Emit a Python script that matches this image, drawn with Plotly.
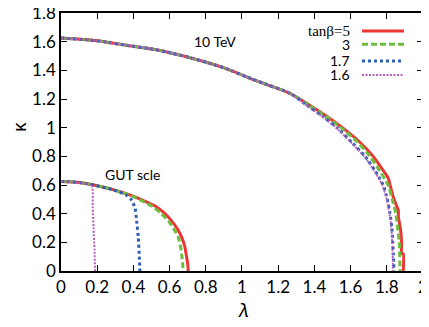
import plotly.graph_objects as go

# tan(beta) series
tanb_labels = ["tanβ=5", "3", "1.7", "1.6"]
colors = ["#ee3535", "#6dbd3f", "#2f5db3", "#b45fbb"]

# upper branch (10 TeV): lambda, kappa
tev_lam_5 = [0, 0.2, 0.335, 0.52, 0.713, 0.897, 1.081, 1.265, 1.376, 1.468, 1.56, 1.65,
             1.725, 1.77, 1.808, 1.818, 1.84, 1.864, 1.864, 1.875, 1.882, 1.882, 1.891, 1.891]
tev_kap_5 = [1.625, 1.607, 1.58, 1.545, 1.488, 1.419, 1.327, 1.24, 1.155, 1.08, 0.995, 0.9,
             0.8, 0.72, 0.648, 0.6, 0.5, 0.42, 0.38, 0.3, 0.2, 0.12, 0.12, 0]
tev_lam_3 = [0, 0.2, 0.335, 0.52, 0.713, 0.897, 1.081, 1.265, 1.372, 1.462, 1.552, 1.638,
             1.707, 1.76, 1.807, 1.83, 1.85, 1.86, 1.869, 1.873]
tev_kap_3 = [1.625, 1.607, 1.58, 1.545, 1.488, 1.419, 1.327, 1.24, 1.155, 1.08, 0.995, 0.9,
             0.8, 0.7, 0.6, 0.5, 0.4, 0.3, 0.2, 0]
tev_lam_17 = [0, 0.2, 0.335, 0.52, 0.713, 0.897, 1.081, 1.265, 1.36, 1.445, 1.525, 1.605,
              1.68, 1.735, 1.78, 1.803, 1.818, 1.828, 1.833, 1.84]
tev_kap_17 = [1.625, 1.607, 1.58, 1.545, 1.488, 1.419, 1.327, 1.24, 1.155, 1.08, 1.0, 0.9,
              0.8, 0.7, 0.6, 0.5, 0.4, 0.3, 0.2, 0]
tev_lam_16 = [0, 0.2, 0.335, 0.52, 0.713, 0.897, 1.081, 1.265, 1.357, 1.441, 1.52, 1.6,
              1.675, 1.73, 1.775, 1.8, 1.815, 1.825, 1.83, 1.835]
tev_kap_16 = [1.625, 1.607, 1.58, 1.545, 1.488, 1.419, 1.327, 1.24, 1.155, 1.08, 1.0, 0.9,
              0.8, 0.7, 0.6, 0.5, 0.4, 0.3, 0.2, 0]

# lower branch (GUT scale)
gut_lam_5 = [0, 0.1, 0.188, 0.28, 0.372, 0.45, 0.52, 0.57, 0.611, 0.645, 0.667, 0.684, 0.694, 0.7, 0.703]
gut_kap_5 = [0.625, 0.618, 0.598, 0.57, 0.534, 0.495, 0.453, 0.405, 0.35, 0.29, 0.235, 0.17, 0.097, 0.05, 0]
gut_lam_3 = [0, 0.1, 0.188, 0.28, 0.372, 0.44, 0.501, 0.55, 0.593, 0.625, 0.648, 0.662, 0.668, 0.676]
gut_kap_3 = [0.625, 0.618, 0.598, 0.57, 0.534, 0.495, 0.453, 0.405, 0.35, 0.29, 0.235, 0.16, 0.1, 0]
gut_lam_17 = [0, 0.1, 0.188, 0.28, 0.36, 0.387, 0.409, 0.418, 0.427, 0.432, 0.436]
gut_kap_17 = [0.625, 0.618, 0.598, 0.57, 0.53, 0.5, 0.44, 0.35, 0.235, 0.12, 0]
gut_lam_16 = [0, 0.1, 0.169, 0.175, 0.18, 0.185, 0.188]
gut_kap_16 = [0.625, 0.615, 0.6, 0.45, 0.3, 0.15, 0]

x_ticks = [0, 0.2, 0.4, 0.6, 0.8, 1, 1.2, 1.4, 1.6, 1.8, 2]
y_ticks = [0, 0.2, 0.4, 0.6, 0.8, 1, 1.2, 1.4, 1.6, 1.8]

series = [
    (tev_lam_5, tev_kap_5, gut_lam_5, gut_kap_5, "solid", 3),
    (tev_lam_3, tev_kap_3, gut_lam_3, gut_kap_3, "6px,3px", 3),
    (tev_lam_17, tev_kap_17, gut_lam_17, gut_kap_17, "3px,3px", 3),
    (tev_lam_16, tev_kap_16, gut_lam_16, gut_kap_16, "2px,1.5px", 2),
]

fig = go.Figure()
for (tl, tk, gl, gk, dash, w), col in zip(series, colors):
    for xs, ys in ((tl, tk), (gl, gk)):
        fig.add_trace(go.Scatter(x=xs, y=ys, mode="lines", showlegend=False,
                                 line=dict(color=col, width=w, dash=dash,
                                           shape="spline", smoothing=0.6)))

# hand-made legend: label on the left, line sample on the right
row_y = [0.930, 0.879, 0.814, 0.760]
for i, (lab, col) in enumerate(zip(tanb_labels, colors)):
    dash, w = series[i][4], series[i][5]
    if i == 0:
        fnt = dict(family="Liberation Serif", size=15, color="black")
    else:
        fnt = dict(family="Lato", size=14, color="black")
    fig.add_annotation(x=0.804, y=row_y[i], xref="paper", yref="paper", text=lab,
                       showarrow=False, xanchor="right", yanchor="middle", font=fnt)
    fig.add_shape(type="line", xref="paper", yref="paper", x0=0.8315, x1=0.9475,
                  y0=row_y[i], y1=row_y[i], line=dict(color=col, width=w, dash=dash))

fig.add_annotation(x=0.851, y=1.598, text="10 TeV", showarrow=False,
                   font=dict(family="Lato", size=14, color="black"))
fig.add_annotation(x=0.395, y=0.672, text="GUT scle", showarrow=False,
                   font=dict(family="Lato", size=14, color="black"))

# axis titles
fig.add_annotation(x=0.5055, y=-0.151, xref="paper", yref="paper", text="<i>λ</i>",
                   showarrow=False, xanchor="center", yanchor="middle",
                   font=dict(family="Noto Sans", size=19, color="black"))
fig.add_annotation(x=-0.116, y=0.558, xref="paper", yref="paper", text="κ", textangle=-90,
                   showarrow=False, xanchor="center", yanchor="middle",
                   font=dict(family="Noto Sans", size=18, color="black"))

axis_style = dict(showline=True, linecolor="black", linewidth=1.5, mirror="ticks",
                  ticks="inside", ticklen=6, tickwidth=1, tickcolor="black",
                  showgrid=False, zeroline=False, automargin=False,
                  ticklabeloverflow="allow",
                  tickfont=dict(family="Lato", size=17, color="black"))
fig.update_xaxes(range=[0, 2.0001], tickvals=x_ticks, ticktext=[f"{v:g}" for v in x_ticks],
                 **axis_style)
fig.update_yaxes(range=[0, 1.8001], tickvals=y_ticks, ticktext=[f"{v:g}" for v in y_ticks],
                 **axis_style)
# the page body adds an 8px margin, so the figure is 8px smaller on each side
fig.update_layout(width=421, height=319, margin=dict(l=53, r=6, t=5, b=56),
                  plot_bgcolor="white", paper_bgcolor="white")

fig.write_html("out.html")
